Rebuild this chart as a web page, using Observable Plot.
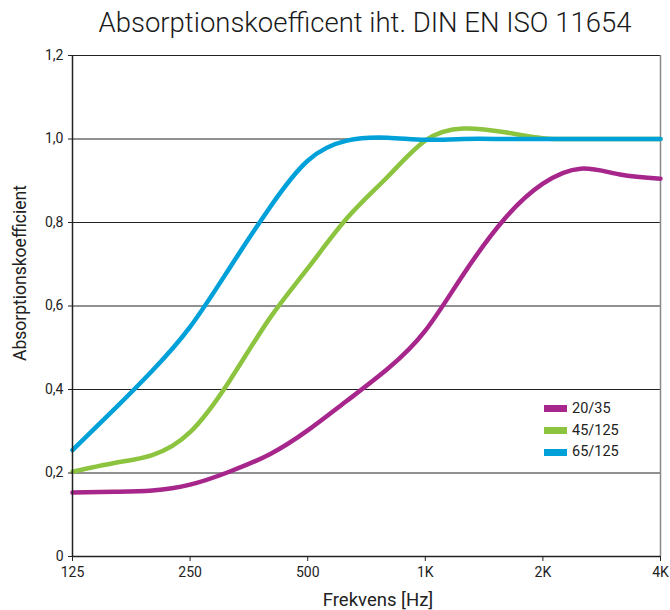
<!DOCTYPE html>
<html><head><meta charset="utf-8">
<script src="https://cdn.jsdelivr.net/npm/d3@7"></script>
<script src="https://cdn.jsdelivr.net/npm/@observablehq/plot@0.6"></script>
<style>
body{margin:0;background:#fff;font-family:Roboto,"DejaVu Sans",sans-serif;color:#222}
#wrap{position:relative;width:670px;height:610px}
#title{position:absolute;left:0;top:6px;width:730px;text-align:center;font-size:27.5px;font-weight:300;color:#1a1a1a;white-space:nowrap}
#chart{position:absolute;left:0;top:42px}
#ylab{position:absolute;left:20px;top:273px;transform:translate(-50%,-50%) rotate(-90deg);font-size:17.5px;white-space:nowrap}
#xlab{position:absolute;left:378px;top:600px;transform:translate(-50%,-50%);font-size:18.5px;white-space:nowrap}
#legend{position:absolute;left:544px;top:398px;font-size:14.5px;line-height:21.7px}
#legend div{display:flex;align-items:center}
#legend span.sw{display:inline-block;width:23px;height:7px;margin-right:5px}
</style></head>
<body>
<div id="wrap">
<div id="title">Absorptionskoefficent iht. DIN EN ISO 11654</div>
<div id="chart"></div>
<div id="ylab">Absorptionskoefficient</div>
<div id="xlab">Frekvens [Hz]</div>
<div id="legend"></div>
</div>
<script>
const freqs = [125,160,200,250,315,400,500,630,800,1000,1250,1600,2000,2500,3150,4000];
const s2035 = [0.153,0.155,0.158,0.172,0.203,0.245,0.302,0.373,0.449,0.541,0.675,0.81,0.893,0.929,0.915,0.905];
const s45125 = [0.203,0.224,0.243,0.298,0.42,0.571,0.69,0.81,0.909,0.996,1.025,1.016,1.002,1.0,1.0,1.0];
const s65125 = [0.255,0.353,0.445,0.55,0.69,0.836,0.948,0.996,1.003,0.998,1.0,1.0,1.0,1.0,1.0,1.0];
const seriesNames = ["20/35","45/125","65/125"];
const seriesColors = ["#a6268c","#8cc43f","#00a0d9"];
const xTicks = [125,250,500,1000,2000,4000];
const yTicks = [0,0.2,0.4,0.6,0.8,1.0,1.2];

const allSeries = [s2035, s45125, s65125];
const rows = [];
allSeries.forEach((vals, si) => vals.forEach((v, i) => rows.push({f: freqs[i], v, s: seriesNames[si]})));

const fmtX = d => d >= 1000 ? (d/1000) + "K" : String(d);
const fmtY = d => d === 0 ? "0" : d.toFixed(1).replace(".", ",");

const plot = Plot.plot({
  width: 670, height: 568,
  marginTop: 13, marginBottom: 54, marginLeft: 72, marginRight: 10,
  style: {fontFamily: "Roboto, 'DejaVu Sans', sans-serif", fontSize: "14px", color: "#222"},
  x: {type: "log", domain: [125, 4000], label: null},
  y: {domain: [0, 1.2], label: null},
  color: {domain: seriesNames, range: seriesColors},
  marks: [
    Plot.ruleY(yTicks.filter(d => d > 0), {stroke: "#222", strokeWidth: 1}),
    Plot.ruleX([4000], {stroke: "#888", strokeWidth: 1.5}),
    Plot.line(rows, {x: "f", y: "v", z: "s", stroke: "s", strokeWidth: 4.5, curve: "natural"}),
    Plot.ruleY([0], {stroke: "#222", strokeWidth: 1.5}),
    Plot.ruleX([125], {stroke: "#222", strokeWidth: 1.5}),
    Plot.axisX({ticks: xTicks, tickFormat: fmtX, tickSize: 5, tickPadding: 6, fontSize: 14, stroke: "#222"}),
    Plot.axisY({ticks: yTicks, tickFormat: fmtY, tickSize: 4, tickPadding: 5, fontSize: 14, stroke: "#222"})
  ]
});
document.getElementById("chart").appendChild(plot);

const leg = document.getElementById("legend");
seriesNames.forEach((n, i) => {
  const d = document.createElement("div");
  d.innerHTML = `<span class="sw" style="background:${seriesColors[i]}"></span><span>${n}</span>`;
  leg.appendChild(d);
});
</script>
</body></html>
